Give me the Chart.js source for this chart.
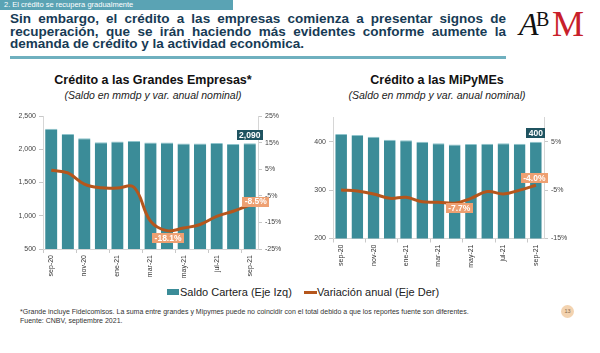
<!DOCTYPE html>
<html>
<head>
<meta charset="utf-8">
<script src="https://cdn.jsdelivr.net/npm/chart.js"></script>
<style>
  body { margin: 0; width: 600px; height: 353px; position: relative; overflow: hidden; background: #fff;
         font-family: 'Liberation Sans', Arial, sans-serif; }
  .abs { position: absolute; }
  #tag { left: 0; top: 0; width: 233px; height: 10px; background: #5aa3b4; color: #fff; font-size: 7.5px;
         line-height: 10px; padding-left: 4px; box-sizing: border-box; }
  #headline { left: 10px; top: 13px; width: 496px; font-size: 13.5px; font-weight: bold; color: #173b55; line-height: 12.5px; }
  #headline div { text-align: justify; text-align-last: justify; white-space: nowrap; }
  #headline div.last { text-align-last: left; }
  #rule { left: 10px; top: 56px; width: 496px; height: 3px; background: #6fb0bf; }
  .logo { font-family: 'Liberation Serif', serif; white-space: nowrap; line-height: 1; }
  .ctitle { font-size: 12.5px; font-weight: bold; color: #111; transform: translateX(-50%); white-space: nowrap; line-height: 1; }
  .csub { font-size: 10.5px; font-style: italic; color: #222; transform: translateX(-50%); white-space: nowrap; line-height: 1; }
  #legend { left: 0; top: 285px; width: 600px; font-size: 11px; color: #222; line-height: 14px; }
  #foot { left: 20px; top: 308px; font-size: 7px; color: #333; line-height: 8.5px; white-space: nowrap; }
  #page { left: 561px; top: 305px; width: 13px; height: 13px; border-radius: 50%; background: #f3d3b0; color: #8a6a4a;
          font-size: 5.5px; text-align: center; line-height: 13px; }
</style>
</head>
<body>
<div id="tag" class="abs">2. El crédito se recupera gradualmente</div>
<div id="headline" class="abs">
  <div>Sin embargo, el crédito a las empresas comienza a presentar signos de</div>
  <div>recuperación, que se irán haciendo más evidentes conforme aumente la</div>
  <div class="last">demanda de crédito y la actividad económica.</div>
</div>
<div id="rule" class="abs"></div>
<div class="abs logo" style="left:519px;top:8px;font-size:32px;font-style:italic;color:#111;">A</div>
<div class="abs logo" style="left:536px;top:9px;font-size:20px;color:#111;">B</div>
<div class="abs logo" style="left:552px;top:6px;font-size:36px;color:#c8202a;">M</div>

<div class="abs ctitle" style="left:153px;top:74px;">Crédito a las Grandes Empresas*</div>
<div class="abs csub" style="left:153px;top:90px;">(Saldo en mmdp y var. anual nominal)</div>
<div class="abs ctitle" style="left:437px;top:74px;">Crédito a las MiPyMEs</div>
<div class="abs csub" style="left:437px;top:90px;">(Saldo en mmdp y var. anual nominal)</div>

<div class="abs" style="left:0;top:100px;width:300px;height:185px;"><canvas id="grandes"></canvas></div>
<div class="abs" style="left:300px;top:100px;width:300px;height:185px;"><canvas id="pymes"></canvas></div>

<div id="legend" class="abs">
  <span class="abs" style="left:167px;top:4px;width:12px;height:6px;background:#3b8c98;"></span>
  <span class="abs" style="left:180px;top:0;">Saldo Cartera (Eje Izq)</span>
  <span class="abs" style="left:304px;top:6px;width:13px;height:3px;background:#b5561c;"></span>
  <span class="abs" style="left:317px;top:0;">Variación anual (Eje Der)</span>
</div>

<div id="foot" class="abs">*Grande incluye Fideicomisos. La suma entre grandes y Mipymes puede no coincidir con el total debido a que los reportes fuente son diferentes.<br>Fuente: CNBV, septiembre 2021.</div>
<div id="page" class="abs">13</div>

<script>
const months = ['sep-20', 'oct-20', 'nov-20', 'dic-20', 'ene-21', 'feb-21', 'mar-21', 'abr-21', 'may-21', 'jun-21', 'jul-21', 'ago-21', 'sep-21'];

const grandesSaldo = [2310, 2230, 2165, 2105, 2115, 2125, 2100, 2100, 2085, 2085, 2095, 2080, 2090];
const grandesVar = [4.6, 3.6, -0.6, -2.0, -2.1, -1.8, -14.5, -18.1, -17.1, -15.8, -12.7, -10.8, -8.5];

const pymesSaldo = [416, 414, 410, 404, 403, 400, 397, 394, 395, 396, 397, 396, 400];
const pymesVar = [-5.0, -5.2, -5.8, -6.7, -6.5, -7.4, -7.5, -7.7, -6.7, -5.3, -5.8, -5.0, -4.0];

// tick values shown on each axis
const grandesTicksL = [500, 1000, 1500, 2000, 2500];
const grandesTicksR = [-25, -15, -5, 5, 15, 25];
const pymesTicksL = [200, 300, 400];
const pymesTicksR = [-15, -5, 5];

const TEAL = '#3b8c98';
const LINE = '#b5561c';
const FONT = "'Liberation Sans', Arial, sans-serif";

// boxed value labels for a few points
const boxLabels = {
    id: 'boxLabels',
    afterDatasetsDraw(chart, args, opts) {
        const ctx = chart.ctx;
        ctx.save();
        ctx.font = 'bold 8.5px ' + FONT;
        ctx.textAlign = 'center';
        ctx.textBaseline = 'middle';
        opts.items.forEach(it => {
            const el = chart.getDatasetMeta(it.ds).data[it.idx];
            const v = chart.data.datasets[it.ds].data[it.idx];
            const text = it.ds === 1 ? v.toLocaleString('en-US') : v.toFixed(1) + '%';
            const w = ctx.measureText(text).width + 5;
            const h = 10;
            const cx = el.x + it.dx;
            const cy = el.y + it.dy;
            ctx.fillStyle = it.ds === 1 ? '#1f5360' : '#eea072';
            ctx.fillRect(Math.round(cx - w / 2), Math.round(cy - h / 2), Math.round(w), h);
            ctx.fillStyle = '#fff';
            ctx.fillText(text, cx, cy + 0.5);
        });
        ctx.restore();
    }
};

function makeChart(id, saldo, variacion, tl, tr, dims, labels) {
    const ctx = document.getElementById(id).getContext('2d');
    return new Chart(ctx, {
        type: 'bar',
        data: {
            labels: months,
            datasets: [{
                type: 'line',
                data: variacion,
                yAxisID: 'y1',
                borderColor: LINE,
                borderWidth: 3,
                tension: 0.4,
                pointRadius: 0
            }, {
                type: 'bar',
                data: saldo,
                yAxisID: 'y',
                backgroundColor: TEAL,
                borderColor: '#8fc4cc',
                borderWidth: { top: 1, left: 0, right: 0, bottom: 0 },
                borderSkipped: false,
                categoryPercentage: 1,
                barPercentage: dims.bar
            }]
        },
        options: {
            responsive: true,
            maintainAspectRatio: false,
            animation: false,
            layout: { padding: { top: dims.top, left: 0, right: 0, bottom: 0 } },
            plugins: {
                legend: { display: false },
                tooltip: { enabled: false },
                boxLabels: { items: labels }
            },
            scales: {
                x: {
                    offset: true,
                    grid: { offset: true, drawOnChartArea: false, tickLength: 4,
                            color: c => c.index % 2 === 0 ? '#c8c8c8' : 'rgba(0,0,0,0)' },
                    border: { color: '#d6d6d6' },
                    ticks: { autoSkip: false, minRotation: 90, maxRotation: 90, padding: 2,
                             font: { size: 7, family: FONT }, color: '#333',
                             callback: (v, i) => i % 2 === 0 ? months[i] : '' },
                    afterFit: s => { s.height = dims.xh; }
                },
                y: {
                    position: 'left',
                    min: dims.yMin, max: dims.yMax,
                    ticks: { font: { size: 7, family: FONT }, color: '#444', padding: 3,
                             callback: v => v.toLocaleString('en-US') },
                    grid: { drawOnChartArea: false, tickLength: 4, color: '#c8c8c8' },
                    border: { color: '#d6d6d6' },
                    afterBuildTicks: s => { s.ticks = tl.map(v => ({ value: v })); },
                    afterFit: s => { s.width = dims.yl; }
                },
                y1: {
                    position: 'right',
                    min: dims.rMin, max: dims.rMax,
                    ticks: { font: { size: 7, family: FONT }, color: '#444', padding: 3,
                             callback: v => v + '%' },
                    grid: { drawOnChartArea: false, tickLength: 4, color: '#c8c8c8' },
                    border: { color: '#d6d6d6' },
                    afterBuildTicks: s => { s.ticks = tr.map(v => ({ value: v })); },
                    afterFit: s => { s.width = dims.yr; }
                }
            }
        },
        plugins: [boxLabels]
    });
}

makeChart('grandes', grandesSaldo, grandesVar, grandesTicksL, grandesTicksR,
    { top: 16, xh: 36, yl: 43, yr: 42, bar: 0.74, yMin: 500, yMax: 2500, rMin: -25, rMax: 25 },
    [{ ds: 1, idx: 12, dx: 0, dy: -8.5 }, { ds: 0, idx: 7, dx: 1, dy: 7.5 }, { ds: 0, idx: 12, dx: 6, dy: -3.5 }]);

makeChart('pymes', pymesSaldo, pymesVar, pymesTicksL, pymesTicksR,
    { top: 17.5, xh: 46.5, yl: 33, yr: 56, bar: 0.72, yMin: 200, yMax: 450, rMin: -15, rMax: 10 },
    [{ ds: 1, idx: 12, dx: 0, dy: -9 }, { ds: 0, idx: 7, dx: 4.5, dy: 5 }, { ds: 0, idx: 12, dx: -1.5, dy: -7 }]);
</script>
</body>
</html>
